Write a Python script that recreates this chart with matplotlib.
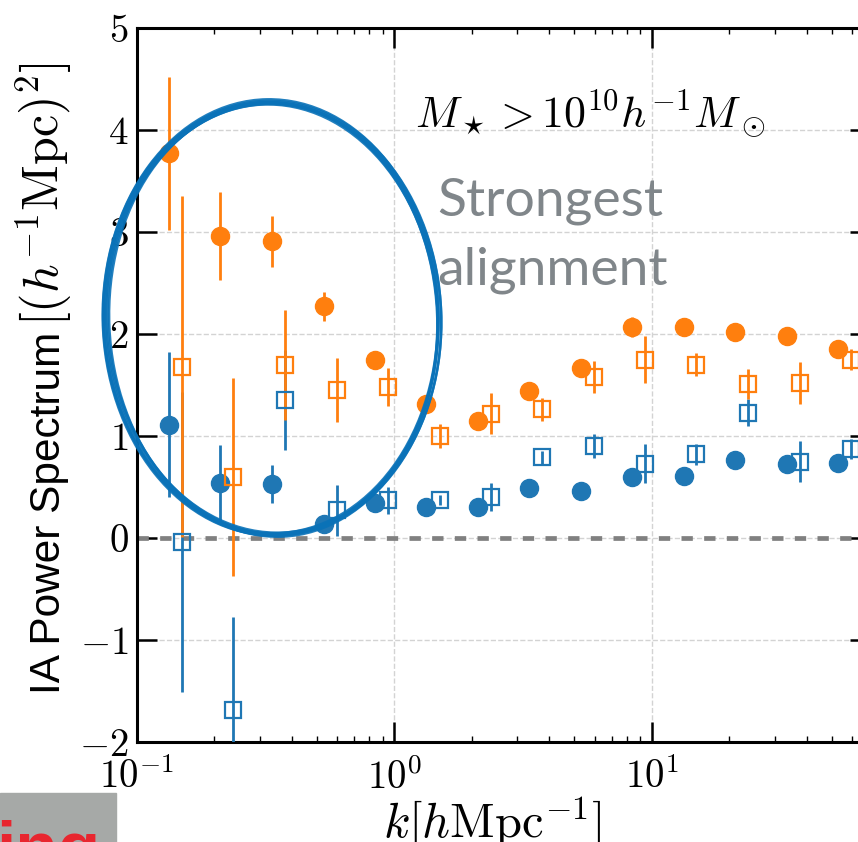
import numpy as np
import matplotlib
matplotlib.use("Agg")
import matplotlib.pyplot as plt
from matplotlib.patches import Ellipse, Rectangle
from matplotlib.ticker import FuncFormatter, LogLocator, NullFormatter

plt.rcParams["mathtext.fontset"] = "cm"
plt.rcParams["font.family"] = ["Liberation Sans", "DejaVu Sans"]

# k bins (circles) and the slightly shifted k for the squares
k_circ = [0.133, 0.211, 0.335, 0.531, 0.841, 1.33, 2.11, 3.35, 5.31, 8.41, 13.3, 21.1, 33.5, 53.1]
k_sq = [0.150, 0.237, 0.376, 0.596, 0.944, 1.50, 2.37, 3.76, 5.96, 9.44, 14.9, 23.7, 37.6, 59.6]

# orange filled circles
orange_circ = [3.77, 2.96, 2.91, 2.27, 1.75, 1.31, 1.15, 1.44, 1.67, 2.07, 2.07, 2.02, 1.98, 1.85]
orange_circ_err = [0.75, 0.43, 0.25, 0.14, 0.06, 0.05, 0.05, 0.05, 0.05, 0.10, 0.06, 0.05, 0.05, 0.05]
# blue filled circles
blue_circ = [1.11, 0.54, 0.53, 0.14, 0.34, 0.30, 0.30, 0.49, 0.46, 0.60, 0.61, 0.76, 0.73, 0.74]
blue_circ_err = [0.71, 0.37, 0.19, 0.08, 0.05, 0.05, 0.05, 0.05, 0.05, 0.05, 0.05, 0.05, 0.05, 0.05]
# orange open squares
orange_sq = [1.68, 0.60, 1.70, 1.45, 1.48, 1.00, 1.22, 1.26, 1.58, 1.75, 1.70, 1.51, 1.52, 1.75]
orange_sq_err = [1.67, 0.97, 0.54, 0.31, 0.19, 0.12, 0.20, 0.11, 0.16, 0.23, 0.11, 0.15, 0.21, 0.10]
# blue open squares
blue_sq = [-0.04, -1.69, 1.35, 0.27, 0.37, 0.37, 0.40, 0.79, 0.90, 0.73, 0.82, 1.23, 0.75, 0.87]
blue_sq_err = [1.47, 0.92, 0.49, 0.25, 0.13, 0.05, 0.14, 0.06, 0.12, 0.19, 0.10, 0.13, 0.20, 0.10]

yticks = [-2, -1, 0, 1, 2, 3, 4, 5]

blue = "#1f77b4"
orange = "#ff7f0e"

fig = plt.figure(figsize=(8.58, 8.42), dpi=100)
# axes run off the right edge of the picture (cropped figure)
ax = fig.add_axes([137 / 858, 100 / 842, 733 / 858, 714 / 842])

ax.errorbar(k_circ, blue_circ, yerr=blue_circ_err, fmt="o", color=blue,
            ms=13, elinewidth=2, capsize=0, zorder=3)
ax.errorbar(k_circ, orange_circ, yerr=orange_circ_err, fmt="o", color=orange,
            ms=13, elinewidth=2, capsize=0, zorder=3)
ax.errorbar(k_sq, blue_sq, yerr=blue_sq_err, fmt="s", color=blue, mfc="none",
            mew=1.6, ms=12, elinewidth=2, capsize=0, zorder=4)
ax.errorbar(k_sq, orange_sq, yerr=orange_sq_err, fmt="s", color=orange, mfc="none",
            mew=1.6, ms=12, elinewidth=2, capsize=0, zorder=4)

ax.axhline(0, color="gray", lw=3.4, ls=(0, (2.4, 2.4)), zorder=2)

ax.set_xscale("log")
ax.set_xlim(0.1, 70.5)
ax.set_ylim(-2, 5)
ax.set_yticks(yticks)
ax.yaxis.set_major_formatter(FuncFormatter(lambda v, p: r"$%d$" % v))
ax.xaxis.set_major_locator(LogLocator(base=10))
ax.xaxis.set_minor_locator(LogLocator(base=10, subs=np.arange(2, 10)))
ax.xaxis.set_minor_formatter(NullFormatter())
ax.xaxis.set_major_formatter(FuncFormatter(lambda v, p: r"$10^{%d}$" % round(np.log10(v))))

ax.grid(True, which="major", ls="--", color="#d3d3d3", lw=1, zorder=0)
ax.set_axisbelow(True)

ax.tick_params(which="both", direction="in", top=True, right=True)
ax.tick_params(which="major", length=14.5, width=1.8, labelsize=28)
ax.tick_params(axis="y", which="major", pad=6)
ax.tick_params(axis="x", which="major", pad=12)
ax.tick_params(which="minor", length=4, width=1)
for s in ax.spines.values():
    s.set_linewidth(2.2)

ax.set_xlabel(r"$k[h{\rm Mpc}^{-1}]$", fontsize=35, labelpad=-2)
ax.xaxis.label.set_x(0.485)

# y label: sans text part and LaTeX-looking unit part
fig.text(60 / 858, 1 - 694 / 842, "IA Power Spectrum", fontsize=30.5,
         rotation=90, rotation_mode="anchor", ha="left", va="baseline")
fig.text(59 / 858, 1 - 326 / 842, r"$[(h^{-1}{\rm Mpc})^2]$", fontsize=36,
         rotation=90, rotation_mode="anchor", ha="left", va="baseline")

fig.text(415 / 858, 1 - 128 / 842, r"$M_\star > 10^{10}h^{-1}M_\odot$",
         fontsize=31.5, va="baseline", ha="left")
fig.text(437 / 858, 1 - 215 / 842, "Strongest", family="Lato", fontsize=38.5,
         color="#80868a", va="baseline", ha="left")
fig.text(437 / 858, 1 - 285 / 842, "alignment", family="Lato", fontsize=38.5,
         color="#80868a", va="baseline", ha="left")

# hand drawn ellipse around the low-k points (pixel units, y up)
ell_cx, ell_cy, ell_w, ell_h = 271.7, 523.7, 333, 433
strokes = [(0, 0, 0, 0, 2), (1, -1, -3, -3, 3), (-1, 1, 3, 3, 1),
           (1.5, -1.5, -5, 1, 2.5), (-1, 0.5, 1, -2, 1.5), (0.5, 0, 5, 2, 2),
           (2, 0, 2, -4, 2.5)]
for dx, dy, dw, dh, ang in strokes:
    fig.add_artist(Ellipse(((ell_cx + dx) / 100, (ell_cy + dy) / 100),
                           (ell_w + dw) / 100, (ell_h + dh) / 100, angle=ang,
                           transform=fig.dpi_scale_trans, fill=False,
                           ec="#0a72b8", lw=1.8, alpha=0.9, zorder=5))

# slide fragment at lower left
fig.add_artist(Rectangle((0, 0), 116 / 858, 49 / 842, transform=fig.transFigure,
                         color="#a6a9a7", zorder=1))
fig.text(-0.004, 1 - 870 / 842, "ing", fontsize=50, weight="bold",
         color="#e8262f", zorder=2)

fig.savefig("out.png", dpi=100)
